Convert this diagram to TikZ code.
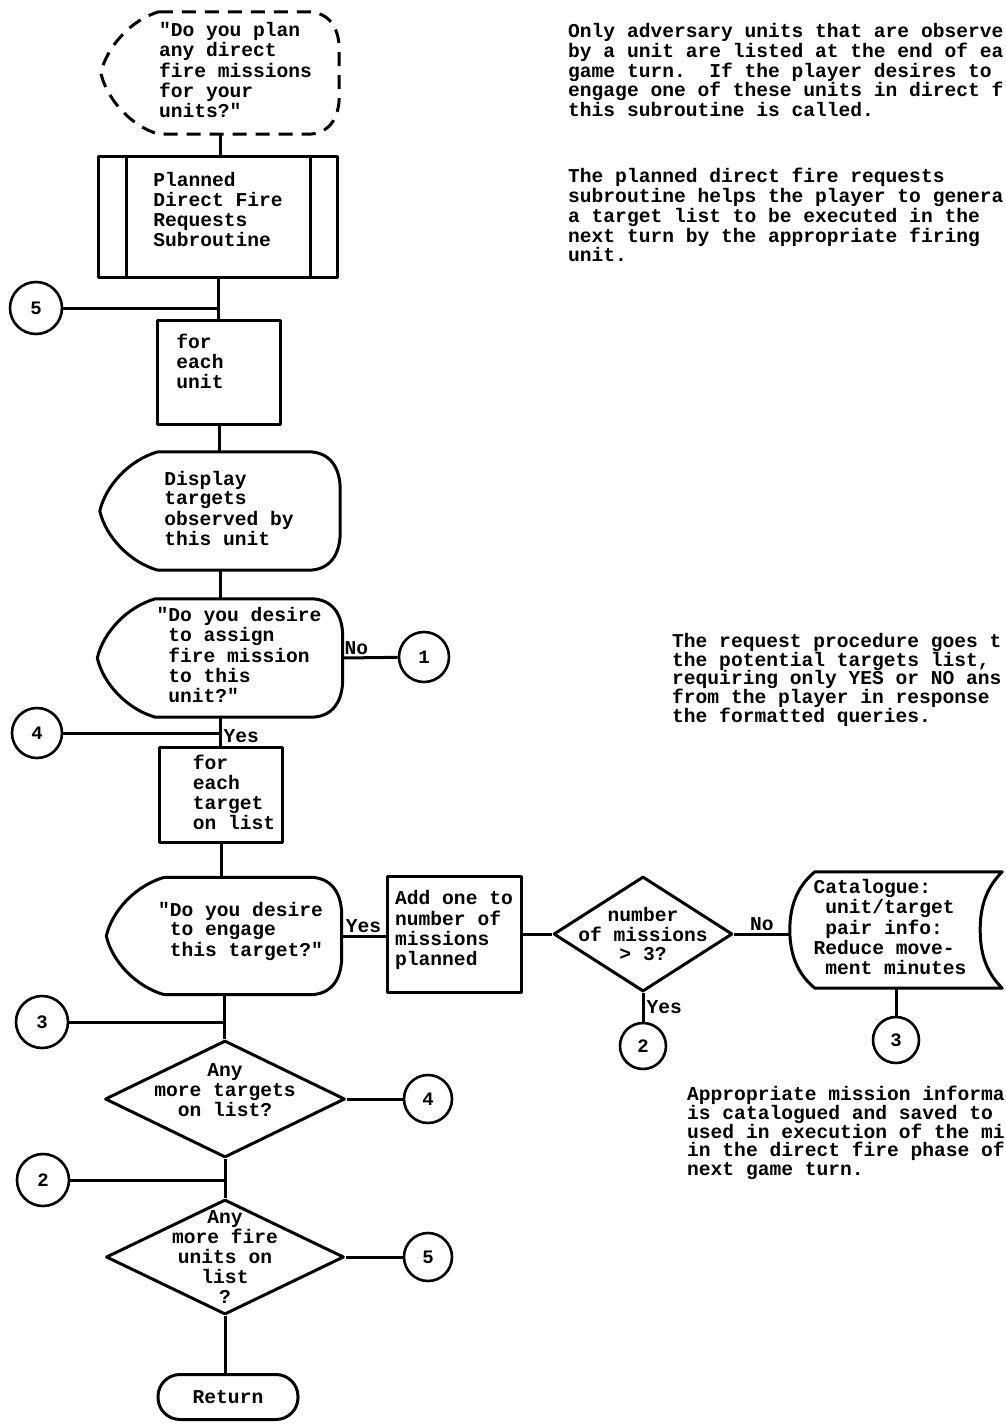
\documentclass[tikz,border=0pt]{standalone}
\usepackage{fontspec}
\setmainfont{Liberation Mono}[Ligatures=TeXOff]
\usetikzlibrary{shapes.geometric,calc}

% text block inside a box: shift right, raise, lines
\newcommand\tblock[3]{\hspace*{#1}\raisebox{#2}[\height][\depth]{\begin{tabular}{@{}l@{}}#3\end{tabular}}}
\newcommand\indc{\hphantom{x}}
% display shape drawn round a named node
\newcommand\dispoutline[2][]{%
  \draw[flow,#1] ($(#2.north west)+(58,0)$) -- ($(#2.north east)+(-32,0)$)
    .. controls ($(#2.north east)+(-10,0)$) and ($(#2.north east)+(0,16)$) .. ($(#2.north east)+(0,38)$)
    -- ($(#2.south east)+(0,-38)$)
    .. controls ($(#2.south east)+(0,-16)$) and ($(#2.south east)+(-10,0)$) .. ($(#2.south east)+(-32,0)$)
    -- ($(#2.south west)+(58,0)$)
    .. controls ($(#2.south west)+(30,-8)$) and ($(#2.west)+(6,26)$) .. (#2.west)
    .. controls ($(#2.west)+(6,-26)$) and ($(#2.north west)+(30,8)$) .. ($(#2.north west)+(58,0)$) -- cycle;}
% stored data shape
\newcommand\storeoutline[1]{%
  \draw[flow] ($(#1.north west)+(25,0)$) -- (#1.north east)
    .. controls ($(#1.north east)+(-18,18)$) and ($(#1.east)+(-22,-20)$) .. ($(#1.east)+(-22,0)$)
    .. controls ($(#1.east)+(-22,20)$) and ($(#1.south east)+(-18,-18)$) .. (#1.south east)
    -- ($(#1.south west)+(25,0)$)
    .. controls ($(#1.south west)+(8,-14)$) and ($(#1.west)+(0,25)$) .. (#1.west)
    .. controls ($(#1.west)+(0,-25)$) and ($(#1.north west)+(8,14)$) .. ($(#1.north west)+(25,0)$) -- cycle;}

\tikzset{
  flow/.style={line width=3pt, line join=round},
  procbox/.style={draw, flow, inner sep=0pt},
  dispnode/.style={inner sep=0pt},
  decision/.style={diamond, draw, flow, inner sep=0pt},
  conn/.style={circle, draw, line width=2.6pt, minimum size=#1, inner sep=0pt, font=\fontsize{19}{19}\selectfont\bfseries},
  conn/.default=50,
  terminal/.style={draw, flow, rounded corners=22pt, inner sep=0pt},
  dtext/.style={align=center, inner sep=0pt},
  note/.style={anchor=north west, inner sep=0pt, align=left},
  tag/.style={inner sep=2pt}
}

\begin{document}
\begin{tikzpicture}[x=1pt, y=-1pt, font=\fontsize{19.6}{19.8}\selectfont\bfseries\frenchspacing]
\useasboundingbox (0,0) rectangle (1005,1424);
\clip (0,0) rectangle (1005,1424);

% main column
\node[dispnode, minimum width=238, minimum height=122] (start) at (220,73)
  {\tblock{31pt}{0pt}{"Do you plan\\any direct\\fire missions\\for your\\units?"}};
\node[procbox, minimum width=239, minimum height=121] (sub) at (218,217)
  {\tblock{0pt}{5pt}{Planned\\Direct Fire\\Requests\\Subroutine}};
\node[conn=52] (c5a) at (36,308) {5};
\node[procbox, minimum width=123, minimum height=104] (unitloop) at (219,372)
  {\tblock{-38pt}{8pt}{for\\each\\unit}};
\node[dispnode, minimum width=240, minimum height=118] (disp) at (220,511)
  {\tblock{18pt}{0pt}{Display\\targets\\observed by\\this unit}};
\node[dispnode, minimum width=245, minimum height=118] (q1) at (220,658)
  {\tblock{38pt}{0pt}{"Do you desire\\\indc to assign\\\indc fire mission\\\indc to this\\\indc unit?"}};
\node[conn] (c1) at (424,657) {1};
\node[conn] (c4a) at (37,733) {4};
\node[procbox, minimum width=123, minimum height=95] (tgtloop) at (221,795)
  {\tblock{26pt}{0pt}{for\\each\\target\\on list}};
\node[dispnode, minimum width=235, minimum height=117] (q2) at (224,936)
  {\tblock{33pt}{4pt}{"Do you desire\\\indc to engage\\\indc this target?"}};

% side branch
\node[procbox, minimum width=134, minimum height=116] (add) at (454,934)
  {\tblock{0pt}{3pt}{Add one to\\number of\\missions\\planned}};
\node[decision, minimum width=179, minimum height=115,
  label={[dtext]center:{number\\of missions\\> 3?}}] (dmis) at (643,934) {};
\node[dispnode, minimum width=212, minimum height=116] (cat) at (896,930)
  {\tblock{-12pt}{0pt}{Catalogue:\\\indc unit/target\\\indc pair info:\\Reduce move-\\\indc ment minutes}};
\node[conn=46] (c2b) at (643,1046) {2};
\node[conn=46] (c3b) at (896,1040) {3};

% lower column
\node[conn=52] (c3a) at (42,1022) {3};
\node[decision, minimum width=240, minimum height=117,
  label={[dtext,yshift=9pt]center:{Any\\more targets\\on list?}}] (dtgt) at (225,1099) {};
\node[conn=48] (c4b) at (428,1099) {4};
\node[conn=52] (c2a) at (43,1180) {2};
\node[decision, minimum width=238, minimum height=115,
  label={[dtext]center:{Any\\more fire\\units on\\list\\?}}] (dunit) at (225,1257) {};
\node[conn=48] (c5b) at (428,1257) {5};
\node[terminal, minimum width=140, minimum height=45] (ret) at (228,1397) {Return};

% outlines
\dispoutline[dashed, dash pattern=on 14pt off 9pt]{start}
\dispoutline{disp}
\dispoutline{q1}
\dispoutline{q2}
\storeoutline{cat}
\foreach \s/\d in {west/29,east/-29}
  \draw[flow] ($(sub.north \s)+(\d,0)$) -- ($(sub.south \s)+(\d,0)$);

% connectors
\draw[flow] (start.south) -- (start.south |- sub.north);
\draw[flow] (sub.south) -- (sub.south |- unitloop.north);
\draw[flow] (c5a) -- (c5a -| sub.south);
\draw[flow] (unitloop.south) -- (unitloop.south |- disp.north);
\draw[flow] (disp.south) -- (disp.south |- q1.north);
\draw[flow] (q1.east) -- node[tag, above, pos=0.25] {No} (c1);
\draw[flow] (q1.south) -- node[tag, right, pos=0.65] {Yes} (q1.south |- tgtloop.north);
\draw[flow] (c4a) -- (c4a -| q1.south);
\draw[flow] (tgtloop.south) -- (tgtloop.south |- q2.north);
\draw[flow] (q2.east) -- node[tag, above] {Yes} (q2.east -| add.west);
\draw[flow] (add) -- (dmis);
\draw[flow] (dmis.east) -- node[tag, above] {No} (dmis.east -| cat.west);
\draw[flow] (dmis.south) -- node[tag, right] {Yes} (c2b);
\draw[flow] (cat.south) -- (c3b);
\draw[flow] (q2.south) -- (q2.south |- dtgt.north);
\draw[flow] (c3a) -- (c3a -| q2.south);
\draw[flow] (dtgt) -- (c4b);
\draw[flow] (dtgt.south) -- (dtgt.south |- dunit.north);
\draw[flow] (c2a) -- (c2a -| dtgt.south);
\draw[flow] (dunit) -- (c5b);
\draw[flow] (dunit.south) -- (dunit.south |- ret.north);

% notes
\node[note] (obsnote) at (568,23) {Only adversary units that are observe\\by a unit are listed at the end of ea\\game turn.\ \ If the player desires to\\engage one of these units in direct f\\this subroutine is called.};
\node[note] (purpnote) at (568,168) {The planned direct fire requests\\subroutine helps the player to genera\\a target list to be executed in the\\next turn by the appropriate firing\\unit.};
\node[note, font=\fontsize{19.6}{18.7}\selectfont\bfseries] (reqnote) at (672,633) {The request procedure goes t\\the potential targets list,\\requiring only YES or NO ans\\from the player in response\\the formatted queries.};
\node[note, font=\fontsize{19.6}{18.3}\selectfont\bfseries] (catnote) at (687,1086) {Appropriate mission informa\\is catalogued and saved to\\used in execution of the mi\\in the direct fire phase of\\next game turn.};
\end{tikzpicture}
\end{document}
